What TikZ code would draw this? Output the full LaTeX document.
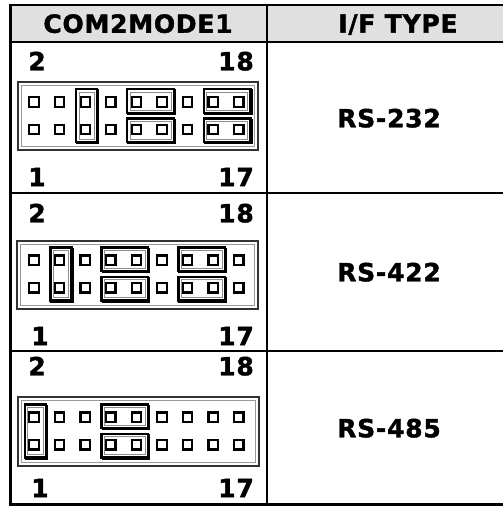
\documentclass[tikz,border=0pt]{standalone}
\usepackage{fontspec}
\setmainfont{DejaVu Sans}
\newfontfamily\lblfont{DejaVu Sans}[BoldFont=DejaVu Sans Bold,BoldFeatures={FakeBold=1.6},LetterSpace=3]
\begin{document}
\begin{tikzpicture}[x=1pt,y=-1pt,
  lbl/.style={inner sep=0pt,text depth=0pt,font=\lblfont\bfseries\fontsize{25}{29}\selectfont},
  tline/.style={line width=2.6pt,black},
  pinsq/.style={line width=2.3pt,black},
  boxout/.style={line width=1.8pt,black!80},
  boxin/.style={line width=0.8pt,black!40},
  jout/.style={line width=2.4pt,black},
  jin/.style={line width=0.7pt,black!45}]
\useasboundingbox (0,0) rectangle (503,507);
% header fill
\fill[black!12] (10,5) rectangle (503,42);
% table lines
\draw[tline] (8.7,5) -- (503,5);
\draw[tline] (8.7,42) -- (503,42);
\draw[line width=2.4pt] (10,193) -- (503,193);
\draw[line width=2.4pt] (10,351) -- (503,351);
\draw[tline] (8.7,504.5) -- (503,504.5);
\draw[line width=3pt] (10,3.7) -- (10,505.8);
\draw[line width=2.2pt] (267,5) -- (267,504.5);
% header texts
\node[lbl] (h1) at (138,23.5) {COM2MODE1};
\node[lbl] (h2) at (398,23.5) {I/F TYPE};
% right column
\node[lbl] (t1) at (389,118) {RS-232};
\node[lbl] (t2) at (389,272) {RS-422};
\node[lbl] (t3) at (389,428) {RS-485};
% pin labels
\node[lbl] (a2) at (37,61) {2};
\node[lbl,anchor=east] (a18) at (254,61) {18};
\node[lbl] (a1) at (37,177) {1};
\node[lbl,anchor=east] (a17) at (254,177) {17};
\node[lbl] (b2) at (37,213) {2};
\node[lbl,anchor=east] (b18) at (254,213) {18};
\node[lbl] (b1) at (40,336) {1};
\node[lbl,anchor=east] (b17) at (254,336) {17};
\node[lbl] (c2) at (37,366) {2};
\node[lbl,anchor=east] (c18) at (254,366) {18};
\node[lbl] (c1) at (40,488) {1};
\node[lbl,anchor=east] (c17) at (254,488) {17};
% jumper macro: x1 y1 x2 y2 (core rectangle)
\newcommand\jmpcap[4]{%
  \draw[jout] (#1,#2) rectangle (#3,#4);
  \draw[line width=1.3pt] ({#1},{#4+1.4}) -- ({#3+1.4},{#4+1.4}) -- ({#3+1.4},{#2});
  \draw[jin] ({#1+2.8},{#2+2.8}) rectangle ({#3-2.8},{#4-2.8});
}
% connector blocks: box left, top, right, bottom, pin-centre y
\foreach \xl/\yt/\xr/\yb/\yc in {18/82/258/150/115.75, 17/241/258/309/274, 18/397/259/466/431}{
  \draw[boxout] (\xl,\yt) rectangle (\xr,\yb);
  \draw[boxin] ({\xl+3.5},{\yt+3.5}) rectangle ({\xr-3.5},{\yb-3.5});
  \foreach \c in {0,...,8}{
    \foreach \r in {-13.75,13.75}{
      \draw[pinsq] ({34+25.6*\c-4.7},{\yc+\r-4.7}) rectangle ++(9.4,9.4);
    }
  }
}
% RS-232 block (yc = 115.75)
\jmpcap{76.2}{89.25}{97.2}{142.25}   % vertical col 3
\jmpcap{127.1}{89.25}{173.8}{113.0}  % top cols 5-6
\jmpcap{127.1}{118.5}{173.8}{142.25} % bottom cols 5-6
\jmpcap{203.9}{89.25}{250.6}{113.0}  % top cols 8-9
\jmpcap{203.9}{118.5}{250.6}{142.25} % bottom cols 8-9
% RS-422 block (yc = 274)
\jmpcap{50.3}{247.5}{71.6}{300.5}    % vertical col 2
\jmpcap{101.5}{247.5}{148.2}{271.25} % top cols 4-5
\jmpcap{101.5}{276.75}{148.2}{300.5} % bottom cols 4-5
\jmpcap{178.3}{247.5}{225.0}{271.25} % top cols 7-8
\jmpcap{178.3}{276.75}{225.0}{300.5} % bottom cols 7-8
% RS-485 block (yc = 431)
\jmpcap{24.7}{404.5}{46.0}{457.5}    % vertical col 1
\jmpcap{101.5}{404.5}{148.2}{428.25} % top cols 4-5
\jmpcap{101.5}{433.75}{148.2}{457.5} % bottom cols 4-5
\end{tikzpicture}
\end{document}
